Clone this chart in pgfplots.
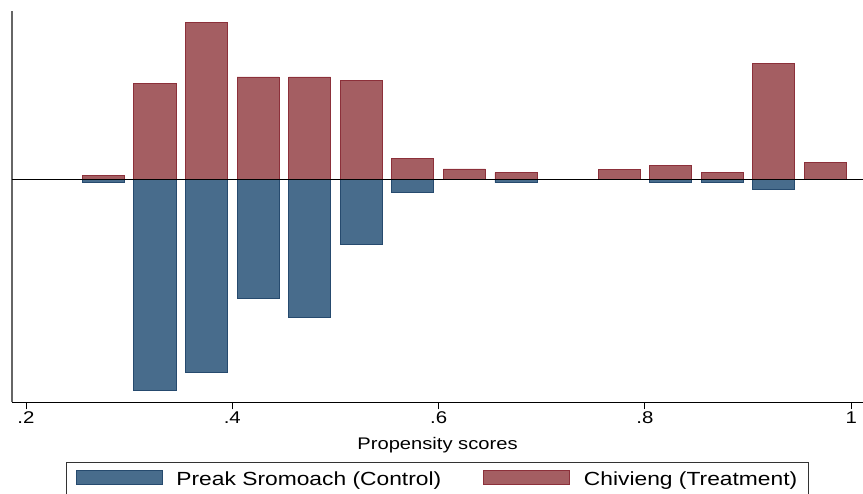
\documentclass[border=0pt]{standalone}
\usepackage{pgfplots}
\pgfplotsset{compat=1.18}
\usepackage{pgfplotstable}
\usepackage{fontspec}
\setmainfont[FakeStretch=1.2]{Liberation Sans}
\definecolor{ctlfill}{RGB}{72,108,140}
\definecolor{ctldraw}{RGB}{38,74,110}
\definecolor{trtfill}{RGB}{164,94,98}
\definecolor{trtdraw}{RGB}{140,48,58}
\pgfplotstableread{
x      trt    ctl
0.275  3.8    -3.4
0.325  95.6   -211.4
0.375  157.0  -193.0
0.425  102.3  -119.4
0.475  102.3  -138.0
0.525  99.0   -64.7
0.575  20.7   -12.7
0.625  10.3   0
0.675  6.7    -3.3
0.775  10.0   0
0.825  14.0   -3.4
0.875  7.0    -3.4
0.925  116.0  -10.0
0.975  17.0   0
}\hist
\begin{document}
\begin{tikzpicture}
\useasboundingbox (-12bp,-91.7bp) rectangle (851bp,402.3bp);
\begin{axis}[
  scale only axis,
  width=851bp, height=391.3bp,
  at={(0,0)}, anchor=south west,
  xmin=0.18643, xmax=1.01144,
  ymin=-223, ymax=168.3,
  axis x line=bottom, axis y line=left,
  axis line style={-, black, line width=0.9bp},
  y axis line style={gray!80!black, line width=1.3bp},
  ytick=\empty,
  xtick={0.2,0.4,0.6,0.8,1},
  xticklabels={.2,.4,.6,.8,1},
  tick align=outside,
  major tick length=7bp,
  tick style={black, line width=0.9bp},
  xticklabel style={font=\fontsize{17bp}{19bp}\selectfont, inner sep=2bp},
  xlabel={Propensity scores},
  xlabel style={font=\fontsize{16.8bp}{19bp}\selectfont, at={(axis description cs:0.5,0)}, anchor=base, yshift=-47bp},
  ybar, bar width=0.0408, bar shift=0pt,
  legend columns=2,
  legend style={at={(axis description cs:0.5,0)}, anchor=north, yshift=-59.4bp,
    draw=black!80, line width=0.8bp, font=\fontsize{19bp}{21bp}\selectfont,
    inner xsep=9.5bp, inner ysep=8bp,
    /tikz/every even column/.append style={column sep=40bp}},
  legend image code/.code={\draw[#1, line width=0.6bp] (0bp,-4.5bp) rectangle (86bp,9.2bp);
    \path (98bp,0bp);},
]
\addplot[fill=ctlfill, draw=ctldraw, line width=0.8bp] table[x=x, y=ctl] {\hist};
\addlegendentry{Preak Sromoach (Control)}
\addplot[fill=trtfill, draw=trtdraw, line width=0.8bp] table[x=x, y=trt] {\hist};
\addlegendentry{Chivieng (Treatment)}
\draw[black, line width=0.9bp] (axis cs:0.18643,0) -- (axis cs:1.01144,0);
\end{axis}
\end{tikzpicture}
\end{document}
